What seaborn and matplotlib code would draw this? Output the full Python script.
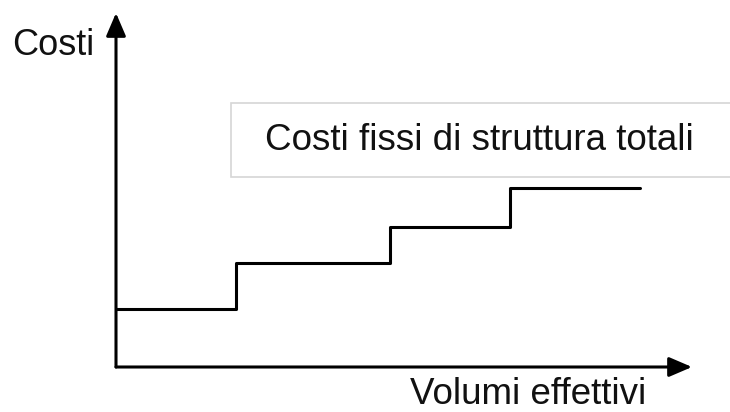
import seaborn as sns
import matplotlib.pyplot as plt
import pandas as pd
from matplotlib.patches import Rectangle

# Step levels of total fixed costs (arbitrary units)
volumi = [0, 12.0, 27.4, 39.4, 52.4]
costi = [5.8, 10.4, 14.0, 17.9, 17.9]

label_y = "Costi"
label_x = "Volumi effettivi"
label_box = "Costi fissi di struttura totali"

df = pd.DataFrame({"volumi": volumi, "costi": costi})

sns.set_theme(style="white")
plt.rcParams["font.family"] = ["Liberation Sans", "DejaVu Sans"]

W, H = 730, 412
fig = plt.figure(figsize=(W / 100, H / 100), dpi=100)
fig.patch.set_facecolor("white")

# axes placed so that origin sits where the arrows start
x0, y0, x1, y1 = 116, 367, 692, 13
ax = fig.add_axes([x0 / W, 1 - y0 / H, (x1 - x0) / W, (y0 - y1) / H])
ax.set_xlim(0, 57.6)
ax.set_ylim(0, 35.4)
ax.set_axis_off()

sns.lineplot(data=df, x="volumi", y="costi", ax=ax, color="black",
             linewidth=2.2, drawstyle="steps-post", sort=False,
             estimator=None, clip_on=False)

# axis arrows
arrow = dict(arrowstyle="-|>,head_length=0.7,head_width=0.3",
             color="black", lw=2.2, shrinkA=0, shrinkB=0, mutation_scale=20)
ax.annotate("", xy=(0, 1), xytext=(0, 0), xycoords="axes fraction",
            arrowprops=arrow)
ax.annotate("", xy=(1, 0), xytext=(0, 0), xycoords="axes fraction",
            arrowprops=arrow)

# labels
fig.text(12 / W, 1 - 55 / H, label_y, fontsize=26, ha="left",
         va="baseline", color="#111111")
fig.text(410 / W, 1 - 404 / H, label_x, fontsize=26.5, ha="left",
         va="baseline", color="#111111")

# legend-like box
fig.add_artist(Rectangle((231 / W, 1 - 177 / H), 520 / W, 74 / H,
                         transform=fig.transFigure, facecolor="white",
                         edgecolor="#d6d6d6", lw=1.2))
fig.text(265 / W, 1 - 141 / H, label_box, fontsize=26.5, ha="left",
         va="center", color="#111111")

plt.savefig("out.png", dpi=100)
